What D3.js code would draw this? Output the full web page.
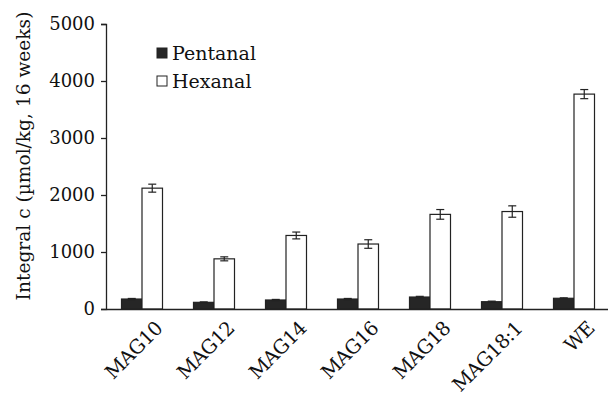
<!DOCTYPE html>
<html><head><meta charset="utf-8">
<script src="https://cdn.jsdelivr.net/npm/d3@7"></script>
<style>body{margin:0;background:#fff}svg{display:block}text{font-family:"DejaVu Serif",serif;fill:#111}</style>
</head><body><svg id="c" width="608" height="396"></svg>
<script>
const categories = ["MAG10","MAG12","MAG14","MAG16","MAG18","MAG18:1","WE"];
const pentanal = [175,117,158,175,210,128,188];
const pentanalErr = [10,8,10,10,12,10,8];
const hexanal = [2120,880,1290,1140,1660,1710,3770];
const hexanalErr = [70,35,60,75,85,100,80];
const yTicks = [0,1000,2000,3000,4000,5000];
const seriesNames = ["Pentanal","Hexanal"];

const svg = d3.select("#c");
const x = d3.scaleBand().domain(categories).range([106,610]).paddingInner(0).paddingOuter(0);
const y = d3.scaleLinear().domain([0,5000]).range([309,24]);
const bw = 20.5;

const yAxis = d3.axisLeft(y).tickValues(yTicks).tickSize(5).tickPadding(6).tickFormat(d3.format("d"));
const gy = svg.append("g").attr("transform","translate(106,0)").call(yAxis);
gy.select(".domain").attr("stroke","#222").attr("stroke-width",1.3);
gy.selectAll(".tick line").attr("stroke","#222").attr("stroke-width",1.3);
gy.selectAll("text").style("font-size","18px").style("font-family","DejaVu Serif");

const series = [
  {name:"Pentanal", vals:pentanal, err:pentanalErr, fill:"#262626", off:-bw},
  {name:"Hexanal", vals:hexanal, err:hexanalErr, fill:"#fff", off:0}
];
series.forEach(s=>{
  const g = svg.append("g");
  g.selectAll("rect").data(categories).join("rect")
    .attr("x",(d)=>x(d)+x.bandwidth()/2+s.off)
    .attr("y",(d,i)=>y(s.vals[i]))
    .attr("width",bw)
    .attr("height",(d,i)=>y(0)-y(s.vals[i]))
    .attr("fill",s.fill).attr("stroke","#222").attr("stroke-width",1.2);
  categories.forEach((d,i)=>{
    const cx = x(d)+x.bandwidth()/2+s.off+bw/2;
    const y1 = y(s.vals[i]+s.err[i]), y2 = y(s.vals[i]-s.err[i]);
    g.append("line").attr("x1",cx).attr("x2",cx).attr("y1",y1).attr("y2",y2).attr("stroke","#222").attr("stroke-width",1.2);
    [y1,y2].forEach(yy=>g.append("line").attr("x1",cx-4).attr("x2",cx+4).attr("y1",yy).attr("y2",yy).attr("stroke","#222").attr("stroke-width",1.2));
  });
});

// x axis
const xAxis = d3.axisBottom(x).tickSize(0).tickPadding(0);
const gx = svg.append("g").attr("transform","translate(0,309)").call(xAxis);
gx.select(".domain").attr("stroke","#222").attr("stroke-width",1.3);
gx.selectAll("text").style("font-size","19.5px").style("font-family","DejaVu Serif")
  .style("letter-spacing","-0.6px")
  .attr("text-anchor","end")
  .attr("transform","translate(12,11) rotate(-45)")
  .attr("dy","0.7em").attr("dx","0");

// y label
svg.append("text").attr("transform","translate(23,156) rotate(-90)")
  .attr("text-anchor","middle").attr("dy","0.35em")
  .style("font-size","18.6px").text("Integral c (µmol/kg, 16 weeks)");

// legend
const lg = svg.append("g");
seriesNames.forEach((n,i)=>{
  const yy = 53 + i*28;
  lg.append("rect").attr("x",157).attr("y",yy-5).attr("width",10).attr("height",10)
    .attr("fill",series[i].fill).attr("stroke","#222").attr("stroke-width",1);
  lg.append("text").attr("x",172).attr("y",yy).attr("dy","0.35em").style("font-size","19px").text(n);
});
</script></body></html>
